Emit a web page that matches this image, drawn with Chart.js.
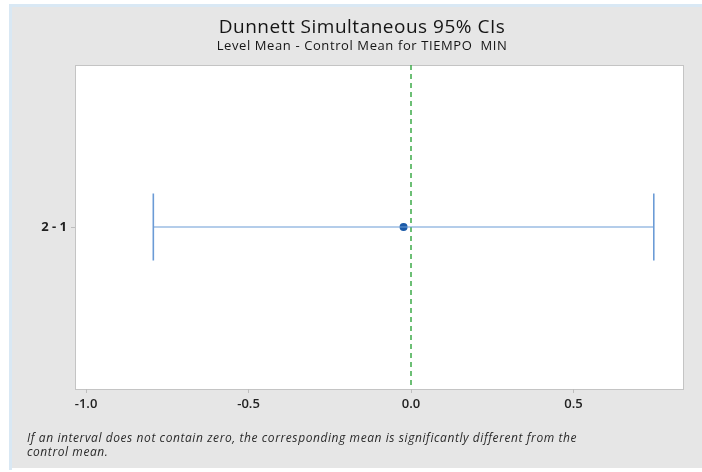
<!DOCTYPE html>
<html>
<head>
<meta charset="utf-8">
<script src="https://cdn.jsdelivr.net/npm/chart.js@4.4.1/dist/chart.umd.min.js"></script>
<style>
  html, body { margin: 0; padding: 0; background: #ffffff; }
  canvas { display: block; }
</style>
</head>
<body>
<canvas id="c" width="702" height="472"></canvas>
<script>
// Dunnett comparison: level mean minus control mean, with simultaneous 95% limits
const comparisons = ['2 - 1'];
const centers = [-0.023];
const lowerLimits = [-0.793];
const upperLimits = [0.747];
const xTicks = [-1.0, -0.5, 0.0, 0.5];

const titleText = 'Dunnett Simultaneous 95% CIs';
const subtitleText = 'Level Mean - Control Mean for TIEMPO  MIN';
const noteLines = [
  'If an interval does not contain zero, the corresponding mean is significantly different from the',
  'control mean.'
];

const FONT = '"Open Sans", "Noto Sans", sans-serif';
const intervalColor = '#6b9bd6';
const pointColor = '#1b5aa8';
const zeroLineColor = '#3daa48';

const intervalPoints = [];
comparisons.forEach((c, i) => {
  intervalPoints.push({ x: lowerLimits[i], y: c });
  intervalPoints.push({ x: upperLimits[i], y: c });
});
const centerPoints = comparisons.map((c, i) => ({ x: centers[i], y: c }));

const framePlugin = {
  id: 'frame',
  beforeDraw(chart) {
    const ctx = chart.ctx;
    const a = chart.chartArea;
    ctx.save();
    ctx.fillStyle = '#ffffff';
    ctx.fillRect(0, 0, chart.width, chart.height);
    ctx.fillStyle = '#d9e8f4';
    ctx.fillRect(9, 4, chart.width - 9, 3);
    ctx.fillRect(9, 4, 3, 466);
    ctx.fillStyle = '#e6e6e6';
    ctx.fillRect(12, 7, chart.width - 12, 461);
    ctx.fillStyle = '#ffffff';
    ctx.fillRect(a.left, a.top, a.right - a.left, a.bottom - a.top);

    // plot frame
    ctx.strokeStyle = '#c4c4c4';
    ctx.lineWidth = 1;
    ctx.strokeRect(a.left + 0.5, a.top + 0.5, a.right - a.left - 1, a.bottom - a.top);

    // titles
    ctx.fillStyle = '#151515';
    ctx.textAlign = 'center';
    ctx.textBaseline = 'alphabetic';
    ctx.letterSpacing = '0.5px';
    ctx.font = '19px ' + FONT;
    ctx.fillText(titleText, 362, 33);
    ctx.letterSpacing = '0.6px';
    ctx.font = '13px ' + FONT;
    ctx.fillText(subtitleText, 362, 50);

    // footnote
    ctx.textAlign = 'left';
    ctx.letterSpacing = '0.58px';
    ctx.font = 'italic 12px ' + FONT;
    ctx.fillStyle = '#2a2a2a';
    ctx.fillText(noteLines[0], 27, 442);
    ctx.fillText(noteLines[1], 27, 456);
    ctx.letterSpacing = '0px';
    ctx.restore();
  },
  beforeDatasetsDraw(chart) {
    const ctx = chart.ctx;
    const a = chart.chartArea;
    // reference line at zero, under the interval marks
    const x0 = Math.round(chart.scales.x.getPixelForValue(0));
    ctx.save();
    ctx.strokeStyle = zeroLineColor;
    ctx.lineWidth = 1.5;
    ctx.setLineDash([5, 4]);
    ctx.beginPath();
    ctx.moveTo(x0, a.top);
    ctx.lineTo(x0, a.bottom);
    ctx.stroke();
    ctx.restore();
  }
};

new Chart(document.getElementById('c'), {
  type: 'scatter',
  data: {
    datasets: [
      {
        type: 'line',
        data: intervalPoints,
        showLine: true,
        borderColor: intervalColor,
        borderWidth: 1.2,
        pointStyle: 'line',
        rotation: 90,
        pointRadius: 33.5,
        pointHoverRadius: 33.5,
        pointBorderColor: intervalColor,
        pointBorderWidth: 1.6,
        tension: 0
      },
      {
        data: centerPoints,
        pointRadius: 4,
        pointHoverRadius: 4,
        backgroundColor: pointColor,
        borderColor: pointColor,
        pointBorderWidth: 0
      }
    ]
  },
  options: {
    responsive: false,
    animation: false,
    devicePixelRatio: 1,
    layout: { autoPadding: false, padding: { top: 65, right: 18, left: 0, bottom: 0 } },
    plugins: {
      legend: { display: false },
      tooltip: { enabled: false },
      title: { display: false }
    },
    scales: {
      x: {
        type: 'linear',
        min: -1.034,
        max: 0.84,
        afterBuildTicks(scale) {
          scale.ticks = xTicks.map(v => ({ value: v }));
        },
        afterFit(scale) { scale.height = 83; },
        border: { display: false },
        grid: { drawOnChartArea: false, drawTicks: true, tickLength: 4, color: '#bdbdbd' },
        ticks: {
          padding: 3,
          color: '#222222',
          font: { family: FONT, size: 13, weight: '600' },
          callback: v => Number(v).toFixed(1)
        }
      },
      y: {
        type: 'category',
        labels: comparisons,
        offset: true,
        afterFit(scale) { scale.width = 75; },
        border: { display: false },
        grid: { drawOnChartArea: false, drawTicks: true, tickLength: 4, color: '#bdbdbd', offset: false },
        ticks: {
          padding: 4,
          color: '#222222',
          font: { family: FONT, size: 13, weight: 'bold' }
        }
      }
    }
  },
  plugins: [framePlugin]
});
</script>
</body>
</html>
